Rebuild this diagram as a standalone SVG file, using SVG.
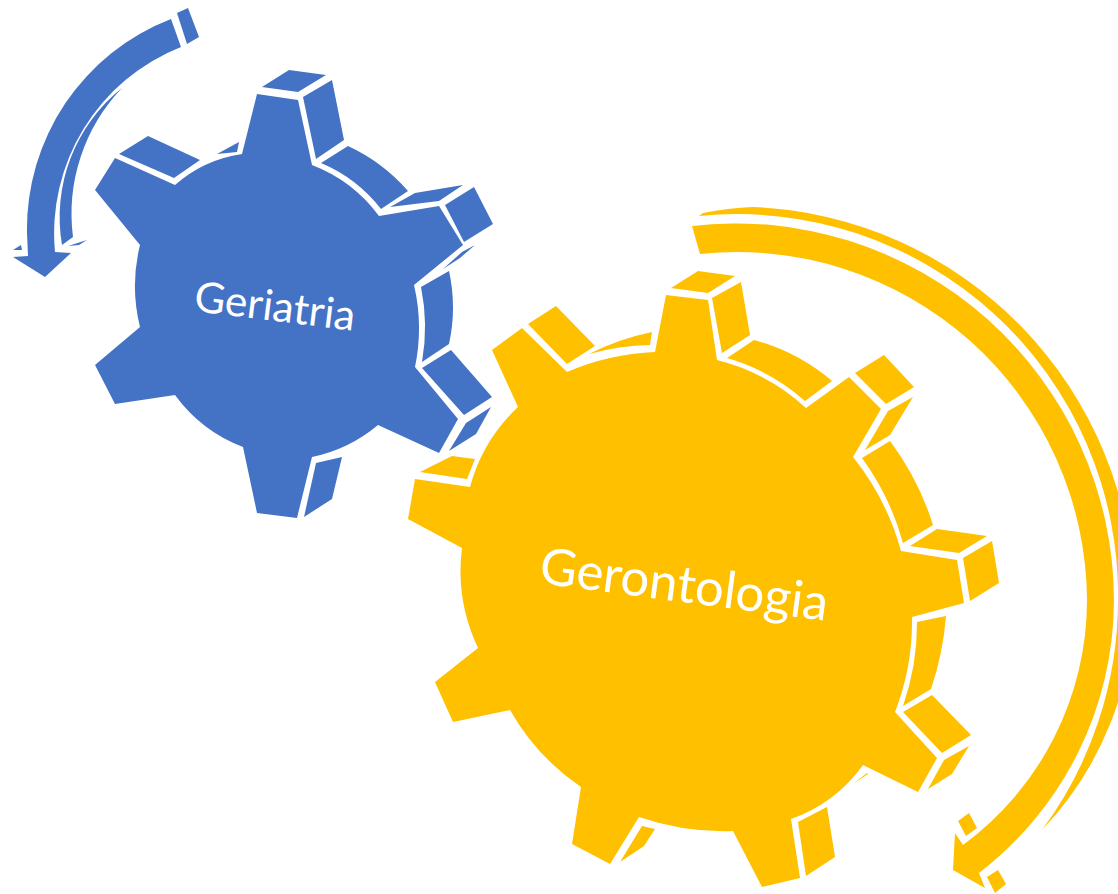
<svg xmlns="http://www.w3.org/2000/svg" width="1118" height="894" viewBox="0 0 1118 894">
<style>
.blue{fill:#4472C4}
.gold{fill:#FFC000}
.label{fill:#fff;font-family:"Lato","Carlito","Open Sans",sans-serif}
</style>
<rect width="1118" height="894" fill="#fff"/>
<g id="connectors">
<g id="arrow-geriatria" class="blue">
<path d="M171 19A225 225 0 0 0 27 233L28 256L13 257L45 277L71 253L55 252A200 200 0 0 1 181 47Z"/>
<path d="M177 13L188 8L199 37L187 44Z"/>
<path d="M13 250L21 245L22 250Z"/>
<path d="M122 88A165 165 0 0 0 62 245L73 237A182 182 0 0 1 122 88Z"/>
<path d="M68 246L87 240L79 245Z"/>
</g>
<g id="arrow-gerontologia" class="gold">
<path d="M692 226A378 378 0 0 1 1114 600A345 345 0 0 1 979 873L985 888L953 870L955 833L963 845A304 304 0 0 0 1087 600A350 350 0 0 0 700 254Z"/>
<path d="M699 216L703 213Q728 208 753 207A397 397 0 0 1 1134 600A333 333 0 0 1 1042 830A386 386 0 0 0 1118 600A381 381 0 0 0 699 216Z"/>
<path d="M958 821L969 813L977 828L966 836Z"/>
<path d="M987 877L998 870L1006 884L995 893Z"/>
</g>
</g>
<g id="geriatria">
<path class="blue" d="M257 94L298 100L312 165A150 150 0 0 1 379 216L439 206L463 245L414 285A190 190 0 0 1 415 367L458 419L439 453L378 425A150 150 0 0 1 312 457L297 518L257 513L243 447A150 150 0 0 1 175 395L115 404L95 365L140 327A170 170 0 0 1 140 245L95 190L115 158L175 185A130 130 0 0 1 242 154Z"/>
<g class="blue">
<path d="M119 154L148 136L200 160L174 178Z"/>
<path d="M217 154L239 142L237 152Z"/>
<path d="M262 87L289 70L326 75L298 92Z"/>
<path d="M303 97L332 80L344 140L316 159Z"/>
<path d="M321 163L348 146A180 180 0 0 1 408 191L381 209A150 150 0 0 0 321 163Z"/>
<path d="M390 207L415 193L463 185L439 201Z"/>
<path d="M445 205L474 187L493 224L464 242Z"/>
<path d="M443 269L462 252L475 245L460 258Z"/>
<path d="M421 287L449 271A170 170 0 0 1 449 344L422 362A200 200 0 0 0 421 287Z"/>
<path d="M422 368L451 350L492 397L464 415Z"/>
<path d="M466 423L491 407L476 434L449 451Z"/>
<path d="M316 463L342 457L332 499L304 517Z"/>
</g>
<text class="label" font-size="42.5" transform="translate(193 311) rotate(7)">Geriatria</text>
</g>
<g id="gerontologia">
<path class="gold" d="M666 295L708 300L717 360A205 205 0 0 1 806 408L849 377L881 409L853 457A260 260 0 0 1 901 551L957 560L964 603L912 617A250 250 0 0 1 895 712L937 758L918 792L863 765A150 150 0 0 1 791 819L800 878L762 887L733 831A260 260 0 0 1 639 817L610 864L572 844L581 787A230 230 0 0 1 510 710L453 722L435 682L478 648A180 180 0 0 1 462 548L408 519L415 479L470 487A170 170 0 0 1 518 407L492 350L522 328L567 372A250 250 0 0 1 655 352Z"/>
<g class="gold">
<path d="M420 472L452 456L475 459L467 479Z"/>
<path d="M528 324L556 306L595 346L567 364Z"/>
<path d="M589 354A250 250 0 0 1 652 332L650 345A250 250 0 0 0 589 354Z"/>
<path d="M671 288L698 271L735 276L708 293Z"/>
<path d="M712 298L741 282L750 335L722 353Z"/>
<path d="M727 358L754 340A200 200 0 0 1 832 381L805 401A200 200 0 0 0 727 358Z"/>
<path d="M855 373L884 355L914 387L886 404Z"/>
<path d="M888 411L913 397L890 435L865 450Z"/>
<path d="M862 458L890 441A280 280 0 0 1 933 525L903 543A260 260 0 0 0 862 458Z"/>
<path d="M910 546L937 529L987 536L959 553Z"/>
<path d="M963 558L992 541L999 583L970 601Z"/>
<path d="M917 622L946 616A300 300 0 0 1 931 689L903 706A250 250 0 0 0 917 622Z"/>
<path d="M903 712L932 695L971 735L942 753Z"/>
<path d="M944 760L969 746L952 774L928 789Z"/>
<path d="M853 784L867 773L868 774Z"/>
<path d="M798 822L827 807L835 857L806 876Z"/>
<path d="M642 826L655 829L644 846L620 862Z"/>
</g>
<text class="label" font-size="51" transform="translate(538 583) rotate(7.5)">Gerontologia</text>
</g>
</svg>
